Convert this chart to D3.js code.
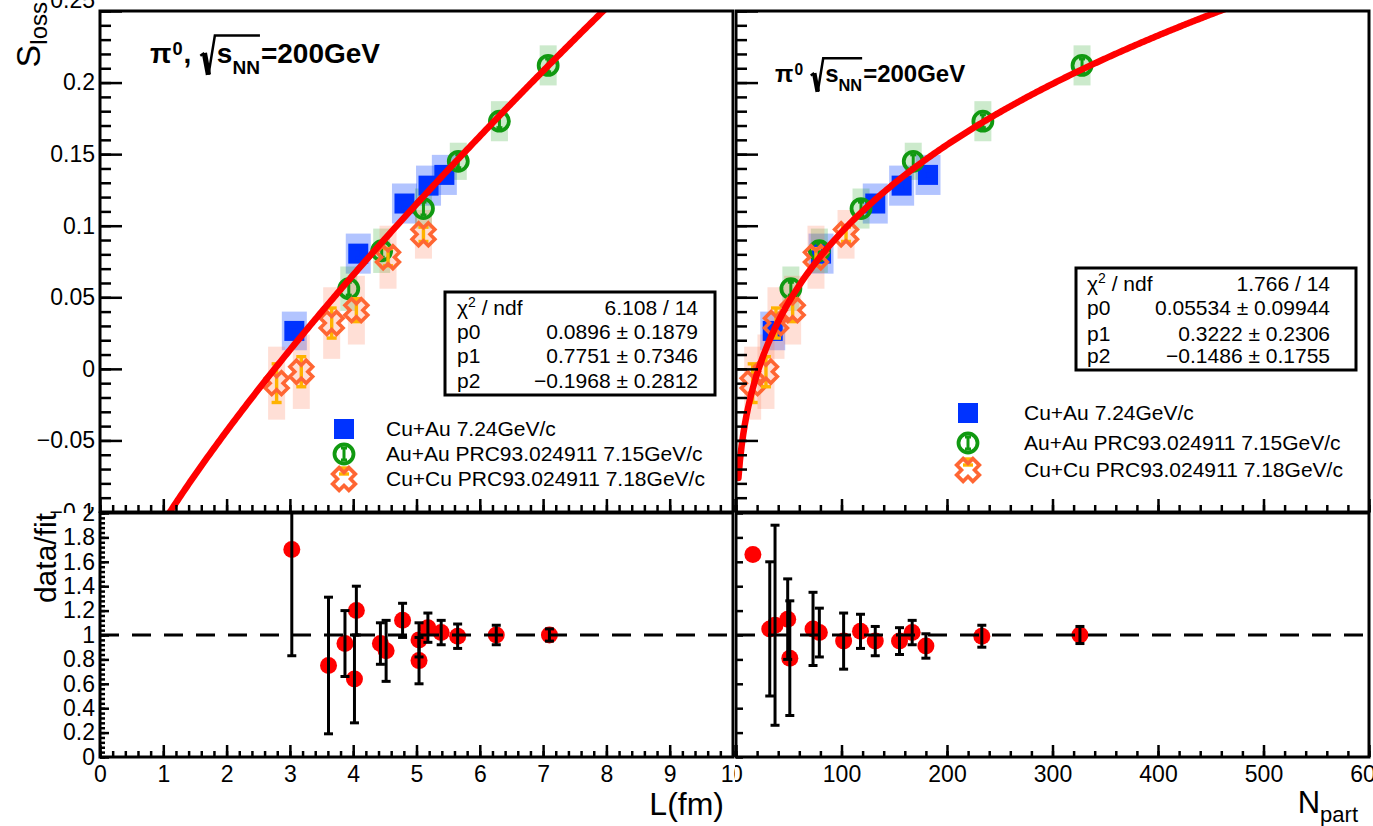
<!DOCTYPE html>
<html><head><meta charset="utf-8">
<script src="https://cdn.jsdelivr.net/npm/d3@7"></script>
<style>html,body{margin:0;padding:0;background:#fff;} svg{display:block;}</style>
</head><body><svg id="c" width="1373" height="826"></svg>
<script>
// ---------------- data ----------------
const seriesNames = ["Cu+Au 7.24GeV/c", "Au+Au PRC93.024911 7.15GeV/c", "Cu+Cu PRC93.024911 7.18GeV/c"];

const cuauL    = [3.07, 4.08, 4.81, 5.19, 5.44];
const cuauN    = [34.8, 80.6, 132, 157, 182];
const cuauS    = [0.0265, 0.0805, 0.1155, 0.128, 0.1355];
const cuauStat = [0.003, 0.003, 0.003, 0.003, 0.003];
const cuauSys  = [0.0135, 0.014, 0.014, 0.014, 0.014];

const auauL    = [3.93, 4.45, 5.11, 5.66, 6.31, 7.08];
const auauN    = [52, 79, 118.5, 168, 234, 328];
const auauS    = [0.056, 0.0825, 0.112, 0.145, 0.173, 0.212];
const auauStat = [0.0045, 0.0045, 0.0045, 0.0045, 0.0045, 0.0045];
const auauSys  = [0.0155, 0.0155, 0.014, 0.013, 0.014, 0.014];

const cucuL    = [2.79, 3.18, 3.66, 4.05, 4.55, 5.11];
const cucuN    = [15.8, 28.4, 37.9, 53.7, 75.8, 104.3];
const cucuS    = [-0.010, -0.002, 0.032, 0.041, 0.078, 0.094];
const cucuStat = [0.0135, 0.0105, 0.0105, 0.008, 0.006, 0.005];
const cucuSys  = [0.0255, 0.026, 0.025, 0.024, 0.022, 0.017];

// fits: f(x) = p0 * x^p1 + p2
const fitParamsL = [0.0896, 0.7751, -0.1968];
const fitErrorsL = [0.1879, 0.7346, 0.2812];
const fitChi2L = "6.108 / 14";
const fitRangeL = [0.001, 10];
const fitParamsN = [0.05534, 0.3222, -0.1486];
const fitErrorsN = [0.09944, 0.2306, 0.1755];
const fitChi2N = "1.766 / 14";
const fitRangeN = [2.3, 600];

// data / fit ratios
const ratioL    = [3.03, 3.61, 3.87, 4.05, 4.02, 4.43, 4.52, 4.78, 5.04, 5.04, 5.18, 5.39, 5.65, 6.26, 7.1];
const ratioLVal = [1.70, 0.75, 0.93, 1.20, 0.64, 0.93, 0.87, 1.12, 0.96, 0.79, 1.06, 1.02, 0.99, 1.00, 1.00];
const ratioLErr = [0.87, 0.56, 0.27, 0.20, 0.36, 0.17, 0.25, 0.14, 0.14, 0.19, 0.12, 0.10, 0.10, 0.08, 0.05];
const ratioN    = [16, 32, 37, 49, 51, 73, 79, 102, 118, 132, 155, 167, 180, 233, 326];
const ratioNVal = [1.66, 1.05, 1.08, 1.13, 0.81, 1.05, 1.02, 0.95, 1.03, 0.95, 0.95, 1.02, 0.91, 0.99, 1.00];
const ratioNErr = [null, 0.55, 0.82, 0.33, 0.47, 0.30, 0.20, 0.23, 0.14, 0.12, 0.11, 0.10, 0.10, 0.09, 0.07];

// ticks
const yTicksS = [-0.1, -0.05, 0, 0.05, 0.1, 0.15, 0.2, 0.25];
const yTickLabelsS = ["\u22120.1", "\u22120.05", "0", "0.05", "0.1", "0.15", "0.2", "0.25"];
const yTicksR = [0, 0.2, 0.4, 0.6, 0.8, 1, 1.2, 1.4, 1.6, 1.8, 2];
const yTickLabelsR = ["0", "0.2", "0.4", "0.6", "0.8", "1", "1.2", "1.4", "1.6", "1.8", "2"];
const xTicksL = [0, 1, 2, 3, 4, 5, 6, 7, 8, 9, 10];
const xTickLabelsL = ["0", "1", "2", "3", "4", "5", "6", "7", "8", "9", "10"];
const xTicksN = [0, 100, 200, 300, 400, 500, 600];
const xTickLabelsN = ["0", "100", "200", "300", "400", "500", "600"];

// ---------------- style / layout ----------------
const FONT = "'Liberation Sans', Arial, Helvetica, sans-serif";
const C_BLUE = "#0033ff", C_GREEN = "#119911", C_ORANGE = "#ff6633", C_YEL = "#ffb300", C_RED = "#ff0000";
const BOX_BLUE = "rgba(0,60,255,0.30)", BOX_GREEN = "rgba(0,150,0,0.20)", BOX_ORANGE = "rgba(255,110,70,0.22)";

const svg = d3.select("#c");
svg.append("rect").attr("width", 1373).attr("height", 826).attr("fill", "#fff");
const defs = svg.append("defs");
function clip(id, x, y, w, h) {
  defs.append("clipPath").attr("id", id).append("rect").attr("x", x).attr("y", y).attr("width", w).attr("height", h);
}

const xL = d3.scaleLinear().domain([0, 10]).range([100, 733]);
const xN = d3.scaleLinear().domain([0, 600]).range([736, 1369]);
const yS = d3.scaleLinear().domain([-0.1, 0.25]).range([512, 11]);
const yR = d3.scaleLinear().domain([0, 2]).range([757, 513]);

clip("padUL", 0, 0, 735, 513);
clip("padLL", 0, 507, 735, 319);
clip("padUR", 735, 0, 638, 513);
clip("padLR", 735, 507, 638, 319);
clip("frUL", 100, 11, 633, 501);
clip("frUR", 736, 11, 633, 501);
clip("frLL", 100, 513, 633, 244);
clip("frLR", 736, 513, 633, 244);

const padUL = svg.append("g").attr("clip-path", "url(#padUL)");
const padUR = svg.append("g").attr("clip-path", "url(#padUR)");
const padLL = svg.append("g").attr("clip-path", "url(#padLL)");
const padLR = svg.append("g").attr("clip-path", "url(#padLR)");

function styleAxis(ga, fs) {
  ga.select(".domain").remove();
  ga.selectAll("line").attr("stroke", "#000").attr("stroke-width", 2.5);
  ga.selectAll("text").attr("font-size", fs).attr("font-family", FONT).attr("fill", "#000");
}
function yAxis(g, scale, x, major, labels, majLen, minor, minLen) {
  const a = d3.axisLeft(scale).tickValues(major).tickSizeInner(-majLen).tickSizeOuter(0).tickPadding(5)
    .tickFormat((d, i) => labels ? labels[i] : "");
  const ga = g.append("g").attr("transform", `translate(${x},0)`).call(a);
  styleAxis(ga, 23);
  if (minor) {
    const b = d3.axisLeft(scale).tickValues(minor).tickSizeInner(-minLen).tickSizeOuter(0).tickFormat("");
    styleAxis(g.append("g").attr("transform", `translate(${x},0)`).call(b), 23);
  }
  return ga;
}
function xAxis(g, scale, y, major, labels, majLen, minor, minLen) {
  const a = d3.axisBottom(scale).tickValues(major).tickSizeInner(-majLen).tickSizeOuter(0).tickPadding(9)
    .tickFormat((d, i) => labels ? labels[i] : "");
  const ga = g.append("g").attr("transform", `translate(0,${y})`).call(a);
  styleAxis(ga, 23);
  if (minor) {
    const b = d3.axisBottom(scale).tickValues(minor).tickSizeInner(-minLen).tickSizeOuter(0).tickFormat("");
    styleAxis(g.append("g").attr("transform", `translate(0,${y})`).call(b), 23);
  }
  return ga;
}
function frame(g, xs, ys) {
  g.append("rect").attr("x", xs.range()[0]).attr("y", ys.range()[1])
    .attr("width", xs.range()[1] - xs.range()[0]).attr("height", ys.range()[0] - ys.range()[1])
    .attr("fill", "none").attr("stroke", "#000").attr("stroke-width", 3);
}

const minorS = d3.range(-10, 26).map(v => v / 100);
const minorR = d3.range(0, 51).map(v => v * 0.04);
const minorL = d3.range(0, 51).map(v => v * 0.2);
const minorN = d3.range(0, 31).map(v => v * 20);

// ---- markers ----
const X_PATH = (() => { const s = 11.5, a = 4.6;
  return `M${-a},${-s}L${a},${-s}L${a},${-a}L${s},${-a}L${s},${a}L${a},${a}L${a},${s}L${-a},${s}L${-a},${a}L${-s},${a}L${-s},${-a}L${-a},${-a}Z`; })();

function drawSquare(g, x, y) {
  g.append("rect").attr("x", x - 10).attr("y", y - 10).attr("width", 20).attr("height", 20).attr("fill", C_BLUE);
}
function drawCircle(g, x, y) {
  g.append("circle").attr("cx", x).attr("cy", y).attr("r", 9.5).attr("fill", "none").attr("stroke", C_GREEN).attr("stroke-width", 3.8);
}
function drawX(g, x, y) {
  g.append("path").attr("d", X_PATH).attr("transform", `translate(${x},${y}) rotate(45)`)
    .attr("fill", "none").attr("stroke", C_ORANGE).attr("stroke-width", 3.6).attr("stroke-linejoin", "miter");
}
function errBar(g, x, y0, y1, color, w, cap) {
  g.append("line").attr("x1", x).attr("x2", x).attr("y1", y0).attr("y2", y1).attr("stroke", color).attr("stroke-width", w);
  [y0, y1].forEach(yy => g.append("line").attr("x1", x - cap / 2).attr("x2", x + cap / 2).attr("y1", yy).attr("y2", yy)
    .attr("stroke", color).attr("stroke-width", w));
}

function upperPanel(pad, xs, frameClip, xCuAu, xAuAu, xCuCu, fitP, fitRange) {
  const g = pad.append("g").attr("clip-path", `url(#${frameClip})`);
  const series = [
    { xv: xCuAu, y: cuauS, st: cuauStat, sy: cuauSys, box: BOX_BLUE, hw: 12.5, bar: C_BLUE, kind: "sq" },
    { xv: xAuAu, y: auauS, st: auauStat, sy: auauSys, box: BOX_GREEN, hw: 8.5, bar: C_GREEN, kind: "ci" },
    { xv: xCuCu, y: cucuS, st: cucuStat, sy: cucuSys, box: BOX_ORANGE, hw: 8.5, bar: C_YEL, kind: "x" }
  ];
  // systematic boxes
  series.forEach(s => s.xv.forEach((xv, i) => {
    const px = xs(xv);
    g.append("rect").attr("x", px - s.hw).attr("width", 2 * s.hw)
      .attr("y", yS(s.y[i] + s.sy[i])).attr("height", yS(s.y[i] - s.sy[i]) - yS(s.y[i] + s.sy[i]))
      .attr("fill", s.box);
  }));
  // markers + stat bars
  series.forEach(s => s.xv.forEach((xv, i) => {
    const px = xs(xv), py = yS(s.y[i]);
    if (s.kind === "sq") drawSquare(g, px, py);
    errBar(g, px, yS(s.y[i] - s.st[i]), yS(s.y[i] + s.st[i]), s.bar, s.kind === "x" ? 3.4 : 3, s.kind === "x" ? 10 : 6);
    if (s.kind === "ci") drawCircle(g, px, py);
    if (s.kind === "x") drawX(g, px, py);
  }));
  // fit curve
  const pts = d3.range(0, 401).map(i => {
    const xv = fitRange[0] + (fitRange[1] - fitRange[0]) * i / 400;
    return [xv, fitP[0] * Math.pow(xv, fitP[1]) + fitP[2]];
  });
  g.append("path").datum(pts).attr("d", d3.line().x(d => xs(d[0])).y(d => yS(d[1])))
    .attr("fill", "none").attr("stroke", C_RED).attr("stroke-width", 6.5).attr("stroke-linecap", "round");
}

function lowerPanel(pad, xs, frameClip, xv, rv, re) {
  const g = pad.append("g").attr("clip-path", `url(#${frameClip})`);
  xv.forEach((x, i) => {
    g.append("circle").attr("cx", xs(x)).attr("cy", yR(rv[i])).attr("r", 8.5).attr("fill", C_RED);
  });
  xv.forEach((x, i) => {
    if (re[i] != null) errBar(g, xs(x), yR(rv[i] - re[i]), yR(rv[i] + re[i]), "#000", 3, 9);
  });
  g.append("line").attr("x1", xs.range()[0]).attr("x2", xs.range()[1]).attr("y1", yR(1)).attr("y2", yR(1))
    .attr("stroke", "#000").attr("stroke-width", 3).attr("stroke-dasharray", "19,13");
}

function statBox(g, x, y, w, h, lx, rx, bases, chi2, p, e) {
  g.append("rect").attr("x", x).attr("y", y).attr("width", w).attr("height", h)
    .attr("fill", "#fff").attr("stroke", "#000").attr("stroke-width", 3);
  const fmt = v => (v < 0 ? "\u2212" : "") + Math.abs(v);
  const t0 = g.append("text").attr("x", lx).attr("y", bases[0]).attr("font-size", 21).attr("font-family", FONT);
  t0.append("tspan").text("\u03c7");
  t0.append("tspan").attr("dy", -8).attr("font-size", 14).text("2");
  t0.append("tspan").attr("dy", 8).text(" / ndf");
  g.append("text").attr("x", rx).attr("y", bases[0]).attr("text-anchor", "end").attr("font-size", 21).attr("font-family", FONT).text(chi2);
  ["p0", "p1", "p2"].forEach((n, i) => {
    g.append("text").attr("x", lx).attr("y", bases[i + 1]).attr("font-size", 21).attr("font-family", FONT).text(n);
    g.append("text").attr("x", rx).attr("y", bases[i + 1]).attr("text-anchor", "end").attr("font-size", 21)
      .attr("font-family", FONT).text(`${fmt(p[i])} \u00b1 ${e[i]}`);
  });
}

function legend(g, mx, tx, rows) {
  drawSquare(g, mx, rows[0]);
  errBar(g, mx, rows[1] - 6, rows[1] + 6, C_GREEN, 3, 6);
  drawCircle(g, mx, rows[1]);
  errBar(g, mx, rows[2] - 11, rows[2] - 5, C_YEL, 3.4, 10);
  drawX(g, mx, rows[2]);
  seriesNames.forEach((n, i) => g.append("text").attr("x", tx).attr("y", rows[i]).attr("dy", "0.35em")
    .attr("font-size", 21).attr("font-family", FONT).text(n));
}

function title(g, x, base, size, comma) {
  const t = (str, xx, yy, fs) => {
    const el = g.append("text").attr("x", xx).attr("y", yy).attr("font-size", fs).attr("font-weight", "bold")
      .attr("font-family", FONT).text(str);
    return el.node().getComputedTextLength();
  };
  let c = x;
  c += t("\u03c0", c, base, size) + 1;
  c += t("0", c, base - size * 0.3, size * 0.65);
  if (comma) c += t(",", c + 1, base, size) + 1;
  c += size * 0.32;
  const rx = c, rw = size * 0.52, top = base - size * 0.98, bot = base + size * 0.42;
  c = rx + rw + 2;
  c += t("s", c, base, size);
  c += t("NN", c, base + size * 0.4, size * 0.68);
  g.append("path").attr("d", `M${rx},${base - size * 0.26}L${rx + rw * 0.28},${base - size * 0.36}`)
    .attr("stroke", "#000").attr("stroke-width", 2.5).attr("fill", "none");
  g.append("path").attr("d", `M${rx + rw * 0.28},${base - size * 0.36}L${rx + rw * 0.56},${bot}`)
    .attr("stroke", "#000").attr("stroke-width", size * 0.19).attr("fill", "none");
  g.append("path").attr("d", `M${rx + rw * 0.56},${bot}L${rx + rw},${top}L${c},${top}`)
    .attr("stroke", "#000").attr("stroke-width", 2.5).attr("fill", "none").attr("stroke-linejoin", "miter");
  t("=200GeV", c + 1, base, size);
}

// ---------------- upper left ----------------
upperPanel(padUL, xL, "frUL", cuauL, auauL, cucuL, fitParamsL, fitRangeL);
const yAxUL = yAxis(padUL, yS, 100, yTicksS, yTickLabelsS, 22, minorS, 11);
yAxUL.selectAll("text").filter((d, i) => i === yTicksS.length - 1).attr("dy", "-0.16em");
xAxis(padUL, xL, 512, xTicksL, null, 13, minorL, 7);
frame(padUL, xL, yS);
title(padUL, 150, 63, 28, true);
statBox(padUL, 445, 292, 270, 103, 457, 698, [315, 339, 363, 388], fitChi2L, fitParamsL, fitErrorsL);
legend(padUL, 344, 386, [429, 454, 479]);
{
  const t = padUL.append("text").attr("transform", "translate(40,2) rotate(-90)").attr("text-anchor", "end")
    .attr("font-size", 34).attr("font-family", FONT);
  t.append("tspan").text("S");
  t.append("tspan").attr("dy", 7).attr("font-size", 24).text("loss");
}

// ---------------- upper right ----------------
upperPanel(padUR, xN, "frUR", cuauN, auauN, cucuN, fitParamsN, fitRangeN);
yAxis(padUR, yS, 736, yTicksS, null, 22, minorS, 11);
xAxis(padUR, xN, 512, xTicksN, null, 13, minorN, 7);
frame(padUR, xN, yS);
title(padUR, 775, 81.7, 24, false);
statBox(padUR, 1076, 268, 280, 102, 1087, 1330, [291, 315, 341, 363], fitChi2N, fitParamsN, fitErrorsN);
legend(padUR, 968, 1024, [413, 443, 470]);

// ---------------- lower left ----------------
lowerPanel(padLL, xL, "frLL", ratioL, ratioLVal, ratioLErr);
yAxis(padLL, yR, 100, yTicksR, yTickLabelsR, 9, minorR, 5);
xAxis(padLL, xL, 757, xTicksL, xTickLabelsL, 12, minorL, 6);
frame(padLL, xL, yR);
padLL.append("text").attr("transform", "translate(56,513) rotate(-90)").attr("text-anchor", "end")
  .attr("font-size", 30).attr("font-family", FONT).text("data/fit");
padLL.append("text").attr("x", 724).attr("y", 815).attr("text-anchor", "end")
  .attr("font-size", 32).attr("font-family", FONT).text("L(fm)");

// ---------------- lower right ----------------
lowerPanel(padLR, xN, "frLR", ratioN, ratioNVal, ratioNErr);
yAxis(padLR, yR, 736, yTicksR, null, 7, null, 0);
xAxis(padLR, xN, 757, xTicksN, xTickLabelsN, 12, minorN, 6);
frame(padLR, xN, yR);
{
  const t = padLR.append("text").attr("x", 1358).attr("y", 813).attr("text-anchor", "end")
    .attr("font-size", 31).attr("font-family", FONT);
  t.append("tspan").text("N");
  t.append("tspan").attr("dy", 9).attr("font-size", 22).text("part");
}
</script>
</body></html>
